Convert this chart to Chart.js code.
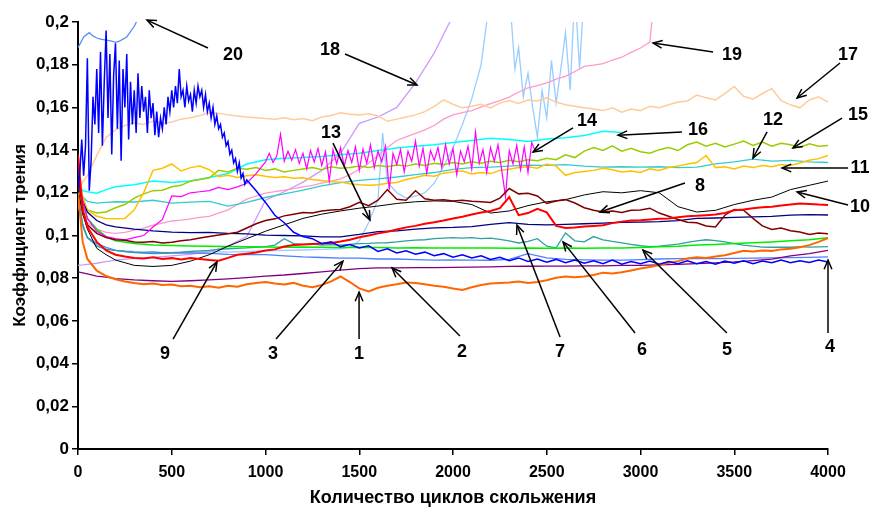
<!DOCTYPE html>
<html>
<head>
<meta charset="utf-8">
<script src="https://cdn.jsdelivr.net/npm/chart.js@4.4.1/dist/chart.umd.min.js"></script>
<style>
  html, body { margin: 0; padding: 0; background: #fff; }
  #chart { display: block; }
</style>
</head>
<body>
<canvas id="chart" width="876" height="521"></canvas>
<script>
function range(a, b, s) { const r = []; for (let v = a; v <= b; v += s) r.push(v); return r; }

// x sampling grids (cycles)
const cyclesA = [0, 25, 50, 100, 150, 200, ...range(300, 4000, 100)];
const cyclesB = [0, 25, ...range(50, 4000, 50)];
const cycles4 = [...range(0, 900, 10), ...range(950, 4000, 50)];
const cycles14 = [...range(0, 1000, 50), ...range(1020, 2440, 20)];
const cycles13 = [0, 25, 50, 100, 150, 200, 300, 400, 500, 600, 700, 800, 900, 1000, 1100, 1200, 1300, 1400,
  1450, 1500, 1550, 1600, 1625, 1650, 1700, 1750, 1800, 1850, 1900, 1950, 2000, 2050, 2100, 2150,
  2180, 2200, 2250, 2300, 2330, 2350, 2375, 2400, 2425, 2450, 2475, 2500, 2525, 2550, 2575, 2600, 2625, 2650, 2675, 2700];
const cycles20 = [0, 30, 60, 80, 100, 120, 150, 180, 200, 220, 240, 260, 280, 300, 320];

const xTicks = range(0, 4000, 500);
const yTicks = range(0, 10, 1).map(i => i * 0.02);

// friction coefficient series
const s1 = [0.12, 0.097,
  0.089, 0.0835, 0.081, 0.0795, 0.0785, 0.0778, 0.0772, 0.0775, 0.0768, 0.077,
  0.0762, 0.0765, 0.0758, 0.0762, 0.0755, 0.0765, 0.076, 0.0772, 0.0778, 0.0782,
  0.0775, 0.077, 0.0778, 0.0765, 0.0758, 0.0768, 0.0785, 0.0808, 0.0782, 0.0752,
  0.0738, 0.0755, 0.0765, 0.0772, 0.078, 0.0778, 0.0772, 0.0765, 0.076, 0.0752,
  0.0745, 0.0758, 0.0768, 0.0775, 0.0778, 0.078, 0.0785, 0.0778, 0.0782, 0.079,
  0.0802, 0.0808, 0.0805, 0.0808, 0.0815, 0.0826, 0.0822, 0.0828, 0.0836, 0.0845,
  0.0852, 0.0862, 0.0872, 0.088, 0.0892, 0.0898, 0.0895, 0.0902, 0.0908, 0.0918,
  0.0928, 0.0925, 0.093, 0.0928, 0.0935, 0.0938, 0.0945, 0.0955, 0.097, 0.0988];
const s2 = [0.083, 0.0825, 0.082, 0.081, 0.0805, 0.0798,
  0.0792, 0.0788, 0.0785, 0.0788, 0.0792, 0.0797, 0.0803, 0.081, 0.0815, 0.0822,
  0.083, 0.0838, 0.0845, 0.0848, 0.0848, 0.085, 0.085, 0.0851, 0.0852, 0.0853,
  0.0855, 0.0856, 0.0857, 0.0857, 0.0858, 0.0858, 0.086, 0.086, 0.0862, 0.0865,
  0.0868, 0.0872, 0.0876, 0.0882, 0.0889, 0.0905, 0.0915, 0.093];
const s3 = [0.118, 0.105, 0.099, 0.0962, 0.0945, 0.093,
  0.092, 0.0915, 0.0918, 0.0918, 0.0916, 0.0912, 0.091, 0.091, 0.0905, 0.09,
  0.0897, 0.0894, 0.0894, 0.089, 0.089, 0.0887, 0.0885, 0.0886, 0.0885, 0.0884,
  0.0888, 0.0915, 0.0895, 0.0888, 0.0886, 0.0885, 0.0885, 0.0887, 0.089, 0.0892,
  0.0893, 0.0892, 0.0893, 0.0894, 0.0895, 0.0896, 0.0898, 0.09];
const s4 = [0.122, 0.13, 0.145, 0.128, 0.142, 0.183, 0.121, 0.135, 0.165, 0.152,
  0.178, 0.148, 0.186, 0.142, 0.172, 0.196, 0.155, 0.185, 0.138, 0.175,
  0.19, 0.15, 0.182, 0.135, 0.178, 0.16, 0.185, 0.145, 0.172, 0.152,
  0.168, 0.148, 0.176, 0.155, 0.17, 0.158, 0.165, 0.148, 0.168, 0.155,
  0.162, 0.147, 0.158, 0.146, 0.155, 0.15, 0.16, 0.152, 0.165, 0.158,
  0.168, 0.16, 0.17, 0.162, 0.178, 0.165, 0.168, 0.16, 0.17, 0.163,
  0.166, 0.158, 0.168, 0.162, 0.17, 0.165, 0.168, 0.16, 0.166, 0.158,
  0.162, 0.155, 0.16, 0.152, 0.156, 0.15, 0.152, 0.146, 0.148, 0.142,
  0.144, 0.138, 0.14, 0.134, 0.136, 0.13, 0.134, 0.127, 0.129, 0.124,
  0.126,
  0.121, 0.1155, 0.1095, 0.106, 0.1015, 0.0995, 0.0985, 0.0962, 0.097, 0.0948,
  0.0958, 0.0942, 0.0952, 0.0925, 0.0938, 0.0918, 0.0928, 0.0912, 0.0922, 0.0905,
  0.0915, 0.0898, 0.091, 0.0895, 0.0905, 0.0888, 0.0898, 0.0882, 0.0895, 0.0878,
  0.089, 0.0875, 0.0888, 0.0872, 0.0885, 0.087, 0.0882, 0.0868, 0.0885, 0.0866,
  0.0878, 0.0868, 0.088, 0.0866, 0.0878, 0.0868, 0.0882, 0.0868, 0.0878, 0.0866,
  0.088, 0.087, 0.0882, 0.0868, 0.088, 0.0872, 0.0885, 0.0872, 0.0882, 0.0874,
  0.0885, 0.0876];
const s5 = [0.125, 0.115, 0.108, 0.103, 0.0995, 0.0975,
  0.0962, 0.0956, 0.0953, 0.0951, 0.095, 0.0948, 0.0947, 0.0946, 0.0945, 0.0946,
  0.0945, 0.0944, 0.0945, 0.0944, 0.0942, 0.0943, 0.0942, 0.0941, 0.0942, 0.0941,
  0.094, 0.0941, 0.094, 0.0941, 0.094, 0.0941, 0.0942, 0.0944, 0.0947, 0.095,
  0.0955, 0.0958, 0.0962, 0.0966, 0.097, 0.0975, 0.098, 0.099];
const s6 = [0.12, 0.105,
  0.099, 0.095, 0.0935, 0.093, 0.0925, 0.0922, 0.092, 0.0923, 0.0918, 0.092,
  0.0922, 0.0925, 0.0928, 0.093, 0.0935, 0.0938, 0.094, 0.0942, 0.0945, 0.0948,
  0.0955, 0.0985, 0.0962, 0.0958, 0.096, 0.0955, 0.0957, 0.0955, 0.0958, 0.0962,
  0.0963, 0.0965, 0.0966, 0.097, 0.0975, 0.0978, 0.098, 0.0985, 0.0988, 0.099,
  0.0988, 0.099, 0.0985, 0.0988, 0.0982, 0.0975, 0.0965, 0.0972, 0.0985, 0.095,
  0.0942, 0.1012, 0.0975, 0.097, 0.0995, 0.098, 0.0972, 0.0965, 0.0958, 0.0952,
  0.0948, 0.095, 0.0955, 0.096, 0.0968, 0.0975, 0.098, 0.0976, 0.097, 0.0962,
  0.0955, 0.095, 0.0946, 0.0945, 0.0946, 0.0945, 0.0948, 0.0946, 0.0947, 0.0948];
const s7 = [0.125, 0.116, 0.111, 0.107, 0.105, 0.104,
  0.103, 0.1022, 0.1016, 0.1013, 0.1015, 0.101, 0.1008, 0.1002, 0.1, 0.0998,
  0.0994, 0.0994, 0.1005, 0.1018, 0.1022, 0.103, 0.1036, 0.1038, 0.1042, 0.1052,
  0.106, 0.1052, 0.105, 0.1052, 0.1055, 0.1058, 0.1062, 0.1063, 0.1065, 0.107,
  0.108, 0.1082, 0.1085, 0.1087, 0.109, 0.1095, 0.1098, 0.1096];
const s8 = [0.13, 0.112,
  0.105, 0.101, 0.099, 0.098, 0.0978, 0.097, 0.0968, 0.0972, 0.0965, 0.0968,
  0.0975, 0.098, 0.0988, 0.0995, 0.1002, 0.1008, 0.1015, 0.1035, 0.1055, 0.107,
  0.1078, 0.1092, 0.11, 0.1108, 0.1105, 0.1115, 0.112, 0.1122, 0.1135, 0.1155,
  0.114, 0.1165, 0.1215, 0.117, 0.1165, 0.121, 0.1172, 0.1165, 0.1168, 0.1162,
  0.1165, 0.116, 0.1158, 0.1155, 0.1175, 0.122, 0.1195, 0.1198, 0.1185, 0.115,
  0.1162, 0.1168, 0.1152, 0.113, 0.1118, 0.111, 0.1115, 0.1108, 0.1118, 0.112,
  0.1128, 0.1105, 0.109, 0.1075, 0.1062, 0.106, 0.1045, 0.104, 0.1095, 0.1122,
  0.1118, 0.108, 0.1045, 0.1028, 0.1035, 0.1022, 0.1016, 0.1005, 0.1012, 0.1008];
const s9 = [0.138, 0.112,
  0.104, 0.097, 0.093, 0.091, 0.0902, 0.0895, 0.0892, 0.0898, 0.089, 0.0894,
  0.0888, 0.0895, 0.089, 0.0885, 0.0882, 0.0895, 0.091, 0.0915, 0.092, 0.093,
  0.0935, 0.0948, 0.0955, 0.0958, 0.096, 0.0962, 0.0965, 0.0972, 0.098, 0.0992,
  0.1, 0.101, 0.1018, 0.1028, 0.1038, 0.1045, 0.1055, 0.1062, 0.107, 0.108,
  0.1088, 0.1098, 0.1108, 0.1115, 0.1128, 0.118, 0.1095, 0.1105, 0.1125, 0.1108,
  0.1045, 0.1035, 0.1038, 0.1042, 0.1045, 0.1048, 0.1058, 0.1065, 0.107, 0.1072,
  0.1075, 0.1078, 0.108, 0.1085, 0.109, 0.1092, 0.1095, 0.1098, 0.1105, 0.1118,
  0.1122, 0.1128, 0.1132, 0.1135, 0.114, 0.1145, 0.115, 0.1148, 0.1145, 0.1143];
const s10 = [0.122, 0.11, 0.103, 0.094, 0.091, 0.0885,
  0.086, 0.0855, 0.086, 0.088, 0.091, 0.095, 0.0985, 0.102, 0.105, 0.108,
  0.11, 0.1115, 0.1128, 0.1138, 0.115, 0.1158, 0.1162, 0.116, 0.1145, 0.1105,
  0.1115, 0.114, 0.1158, 0.1168, 0.119, 0.1205, 0.12, 0.121, 0.12, 0.1135,
  0.111, 0.1118, 0.1145, 0.1165, 0.118, 0.1215, 0.1235, 0.1255];
const s11 = [0.13, 0.118,
  0.112, 0.109, 0.108, 0.1078, 0.108, 0.112, 0.12, 0.1305, 0.1315, 0.1335,
  0.1302, 0.1318, 0.1325, 0.1308, 0.1275, 0.1282, 0.1272, 0.128, 0.1285, 0.1278,
  0.1272, 0.1275, 0.1268, 0.127, 0.1262, 0.1258, 0.1252, 0.125, 0.1242, 0.1238,
  0.1235, 0.1238, 0.1245, 0.1248, 0.1262, 0.1272, 0.1282, 0.1278, 0.1292, 0.1298,
  0.1302, 0.1288, 0.1295, 0.129, 0.1305, 0.131, 0.1318, 0.1322, 0.1315, 0.1335,
  0.1325, 0.1282, 0.1295, 0.13, 0.1305, 0.1315, 0.1308, 0.1298, 0.1302, 0.1295,
  0.1312, 0.1305, 0.1318, 0.1325, 0.1335, 0.1342, 0.1375, 0.1318, 0.1322, 0.1312,
  0.1325, 0.1318, 0.1328, 0.1322, 0.1332, 0.1328, 0.134, 0.1352, 0.136, 0.1375];
const s12 = [0.122, 0.118, 0.116, 0.1152, 0.1155, 0.1158,
  0.1157, 0.1165, 0.1152, 0.1156, 0.116, 0.1138, 0.1155, 0.1178, 0.1195, 0.1212,
  0.1232, 0.1248, 0.1258, 0.1265, 0.1274, 0.1285, 0.1295, 0.131, 0.1318, 0.132,
  0.1325, 0.133, 0.1328, 0.1332, 0.1325, 0.132, 0.1322, 0.132, 0.1322, 0.1318,
  0.132, 0.1335, 0.1345, 0.1358, 0.1348, 0.1352, 0.1345, 0.1342];
const s13 = [0.115, 0.104, 0.099, 0.0955, 0.094, 0.093,
  0.0925, 0.0922, 0.092, 0.0922, 0.0925, 0.0922, 0.0925, 0.0928, 0.093, 0.0932, 0.0935, 0.0938,
  0.0945, 0.0975, 0.106, 0.117, 0.148, 0.125,
  0.12, 0.1175, 0.1185, 0.12, 0.1245, 0.1325, 0.141, 0.152, 0.164, 0.18,
  0.2, 0.215, 0.215, 0.215,
  0.178, 0.188, 0.165, 0.176, 0.16, 0.146, 0.168, 0.155, 0.182, 0.162, 0.178, 0.195, 0.168, 0.215, 0.178, 0.215];
const s14 = [0.125, 0.108, 0.102, 0.0995, 0.0985, 0.098, 0.099, 0.1, 0.104, 0.1075,
  0.1185, 0.1182, 0.12, 0.1205, 0.121, 0.1225, 0.1215, 0.1228, 0.1245, 0.129, 0.1345,
  0.1385, 0.1342, 0.1372, 0.1475, 0.1348, 0.1395, 0.1352, 0.1402, 0.1338, 0.1385,
  0.1312, 0.1398, 0.1345, 0.1408, 0.1328, 0.1392, 0.1255, 0.1402, 0.1335, 0.1412,
  0.1325, 0.1398, 0.1342, 0.1415, 0.1305, 0.1405, 0.1338, 0.1425, 0.1318, 0.1395,
  0.1345, 0.1418, 0.1215, 0.1385, 0.1332, 0.1402, 0.1298, 0.1395, 0.1348, 0.1442,
  0.1325, 0.1408, 0.1292, 0.1398, 0.1352, 0.1412, 0.1318, 0.1425, 0.1335, 0.1408,
  0.1285, 0.1395, 0.1345, 0.1418, 0.1312, 0.1485, 0.1338, 0.1402, 0.1295, 0.1412,
  0.1348, 0.1425, 0.1305, 0.1182, 0.1398, 0.1335, 0.1422, 0.1308, 0.1415, 0.1295,
  0.1435, 0.1392];
const s15 = [0.118, 0.114,
  0.112, 0.1105, 0.111, 0.113, 0.1145, 0.1175, 0.1195, 0.121, 0.1212, 0.1228,
  0.1235, 0.1255, 0.1262, 0.127, 0.1305, 0.1298, 0.1315, 0.131, 0.1318, 0.1305,
  0.1312, 0.1298, 0.1305, 0.1312, 0.1318, 0.1308, 0.1322, 0.1315, 0.1318, 0.1325,
  0.1318, 0.1328, 0.1322, 0.133, 0.1325, 0.1335, 0.1328, 0.1338, 0.1332, 0.1342,
  0.1335, 0.1345, 0.1338, 0.1348, 0.1342, 0.1352, 0.1345, 0.1355, 0.135, 0.1362,
  0.1355, 0.1378, 0.1365, 0.1395, 0.1412, 0.1398, 0.142, 0.1395, 0.1408, 0.1392,
  0.1385, 0.1402, 0.1412, 0.1398, 0.1425, 0.1438, 0.1418, 0.1432, 0.1415, 0.1428,
  0.1442, 0.1422, 0.1438, 0.1418, 0.1432, 0.1425, 0.1412, 0.143, 0.1418, 0.1422];
const s16 = [0.125, 0.121, 0.1205, 0.1198, 0.1215, 0.1228,
  0.1238, 0.1255, 0.1248, 0.1255, 0.1272, 0.129, 0.1335, 0.1355, 0.1362, 0.1365,
  0.137, 0.1378, 0.1385, 0.1398, 0.141, 0.1418, 0.1425, 0.1436, 0.1445, 0.1455,
  0.145, 0.144, 0.1452, 0.1458, 0.1468, 0.1488, 0.1482];
const s17 = [0.12, 0.125,
  0.128, 0.1375, 0.146, 0.1495, 0.1515, 0.1528, 0.152, 0.1535, 0.1525, 0.1532,
  0.1545, 0.1552, 0.1562, 0.1575, 0.1572, 0.1565, 0.156, 0.1555, 0.1552, 0.1548,
  0.1545, 0.1552, 0.1542, 0.1548, 0.1538, 0.1555, 0.1562, 0.1575, 0.1568, 0.1565,
  0.157, 0.156, 0.1535, 0.1545, 0.1555, 0.1565, 0.158, 0.1605, 0.1635, 0.1615,
  0.1598, 0.1605, 0.1615, 0.1598, 0.162, 0.1632, 0.1618, 0.1635, 0.163, 0.1645,
  0.1625, 0.1612, 0.1605, 0.1598, 0.1592, 0.1585, 0.1598, 0.1578, 0.1592, 0.1585,
  0.1605, 0.1598, 0.1612, 0.1625, 0.163, 0.1658, 0.1645, 0.1635, 0.1665, 0.1698,
  0.1652, 0.1638, 0.1665, 0.1688, 0.1632, 0.1612, 0.1598, 0.1635, 0.165, 0.1625];
const s18 = [0.086, 0.0862, 0.0865, 0.087, 0.0878, 0.0885,
  0.0893, 0.0898, 0.0905, 0.0912, 0.0925, 0.095, 0.0995, 0.1165, 0.1205, 0.125,
  0.1305, 0.1385, 0.1525, 0.1555, 0.16, 0.1715, 0.1855, 0.203];
const s19 = [0.12, 0.11,
  0.106, 0.103, 0.1015, 0.101, 0.1015, 0.1025, 0.1035, 0.1048, 0.1058, 0.1068,
  0.1072, 0.1078, 0.1085, 0.109, 0.1105, 0.112, 0.1145, 0.117, 0.1185, 0.1198,
  0.1205, 0.1212, 0.122, 0.1228, 0.1235, 0.1245, 0.1255, 0.1265, 0.1285, 0.131,
  0.1338, 0.1375, 0.1412, 0.1445, 0.1462, 0.1478, 0.1495, 0.1515, 0.1545, 0.1565,
  0.1575, 0.1585, 0.1602, 0.1618, 0.1632, 0.1648, 0.1672, 0.1692, 0.1702, 0.1715,
  0.1732, 0.1745, 0.1768, 0.1792, 0.1798, 0.1805, 0.1822, 0.1835, 0.1858, 0.1878,
  0.1906, 0.235];
const s20 = [0.188, 0.193, 0.195, 0.1935, 0.1925, 0.192, 0.1915, 0.191, 0.1905, 0.191, 0.192, 0.193, 0.1955, 0.198, 0.2015];

// numbered callouts: label point, arrow start, arrow tip (data units)
const callouts = [
  { text: '20', at: [827, 0.1845], from: [693, 0.1878], to: [368, 0.2009] },
  { text: '18', at: [1344, 0.1869], from: [1424, 0.185], to: [1808, 0.1705] },
  { text: '13', at: [1349, 0.148], from: [1360, 0.1433], to: [1557, 0.1073] },
  { text: '14', at: [2715, 0.1536], from: [2640, 0.1504], to: [2427, 0.1391] },
  { text: '19', at: [3488, 0.1845], from: [3387, 0.186], to: [3067, 0.1902] },
  { text: '17', at: [4107, 0.1845], from: [4064, 0.1808], to: [3835, 0.1644] },
  { text: '16', at: [3307, 0.1494], from: [3221, 0.1485], to: [2880, 0.147] },
  { text: '12', at: [3707, 0.1541], from: [3675, 0.1485], to: [3600, 0.1363] },
  { text: '15', at: [4160, 0.1564], from: [4075, 0.155], to: [3813, 0.141] },
  { text: '11', at: [4171, 0.1316], from: [4107, 0.1316], to: [3755, 0.1316] },
  { text: '8', at: [3317, 0.1232], from: [3237, 0.1246], to: [2784, 0.111] },
  { text: '10', at: [4171, 0.1133], from: [4107, 0.1143], to: [3835, 0.1204] },
  { text: '9', at: [464, 0.0445], from: [507, 0.0515], to: [741, 0.0876] },
  { text: '3', at: [1040, 0.0445], from: [1056, 0.0515], to: [1413, 0.088] },
  { text: '1', at: [1499, 0.0445], from: [1499, 0.0515], to: [1499, 0.0735] },
  { text: '2', at: [2048, 0.0454], from: [2037, 0.0529], to: [1675, 0.0848] },
  { text: '7', at: [2571, 0.0454], from: [2571, 0.0525], to: [2341, 0.1049] },
  { text: '6', at: [3008, 0.0464], from: [2971, 0.0543], to: [2587, 0.097] },
  { text: '5', at: [3461, 0.0464], from: [3461, 0.0543], to: [3013, 0.0932] },
  { text: '4', at: [4011, 0.0478], from: [4000, 0.0543], to: [4000, 0.0885] },
];

const FONT = '"Liberation Sans", Arial, sans-serif';

function line(label, xs, ys, color, width) {
  if (ys.length > xs.length) throw new Error('series ' + label + ': ' + ys.length + ' > ' + xs.length);
  return {
    label,
    data: ys.map((v, i) => ({ x: xs[i], y: v })),
    borderColor: color,
    borderWidth: width,
    pointRadius: 0,
    fill: false,
    tension: 0,
  };
}

const calloutPlugin = {
  id: 'callouts',
  afterDatasetsDraw(chart) {
    const { ctx, scales: { x, y } } = chart;
    ctx.save();
    ctx.strokeStyle = '#000';
    ctx.fillStyle = '#000';
    ctx.lineWidth = 1.5;
    ctx.font = 'bold 18px ' + FONT;
    ctx.textAlign = 'center';
    ctx.textBaseline = 'middle';
    callouts.forEach(c => {
      const fx = x.getPixelForValue(c.from[0]), fy = y.getPixelForValue(c.from[1]);
      const tx = x.getPixelForValue(c.to[0]), ty = y.getPixelForValue(c.to[1]);
      ctx.beginPath();
      ctx.moveTo(fx, fy);
      ctx.lineTo(tx, ty);
      ctx.stroke();
      const a = Math.atan2(ty - fy, tx - fx);
      ctx.beginPath();
      ctx.moveTo(tx - 10 * Math.cos(a - 0.4), ty - 10 * Math.sin(a - 0.4));
      ctx.lineTo(tx, ty);
      ctx.lineTo(tx - 10 * Math.cos(a + 0.4), ty - 10 * Math.sin(a + 0.4));
      ctx.stroke();
      ctx.fillText(c.text, x.getPixelForValue(c.at[0]), y.getPixelForValue(c.at[1]));
    });
    ctx.restore();
  },
};

const fmtY = v => (v === 0 ? '0' : String(+v.toFixed(2)).replace('.', ','));

new Chart(document.getElementById('chart'), {
  type: 'line',
  data: {
    datasets: [
      line('4', cycles4, s4, '#0000ff', 1.5),
      line('9', cyclesB, s9, '#ff0000', 2),
      line('1', cyclesB, s1, '#ff6600', 2),
      line('8', cyclesB, s8, '#800000', 1.5),
      line('14', cycles14, s14, '#ff00ff', 1.2),
      line('10', cyclesA, s10, '#000000', 1),
      line('7', cyclesA, s7, '#000080', 1.3),
      line('2', cyclesA, s2, '#800080', 1.3),
      line('5', cyclesA, s5, '#00ee00', 1.5),
      line('6', cyclesB, s6, '#2f9f9f', 1.3),
      line('3', cyclesA, s3, '#4f7fff', 1.3),
      line('11', cyclesB, s11, '#ffc000', 1.5),
      line('15', cyclesB, s15, '#99cc00', 1.5),
      line('12', cyclesA, s12, '#33cccc', 1.3),
      line('16', cyclesA, s16, '#00ffff', 1.5),
      line('17', cyclesB, s17, '#ffcc99', 1.5),
      line('19', cyclesB, s19, '#ff99cc', 1.3),
      line('18', cyclesA, s18, '#cc99ff', 1.3),
      line('13', cycles13, s13, '#99ccff', 1.3),
      line('20', cycles20, s20, '#5b8cf5', 1.3),
    ],
  },
  options: {
    responsive: false,
    animation: false,
    devicePixelRatio: 1,
    layout: { padding: { left: 0, right: 48, top: 22, bottom: 0 } },
    plugins: { legend: { display: false }, tooltip: { enabled: false } },
    scales: {
      x: {
        type: 'linear',
        min: 0,
        max: 4000,
        afterFit(s) { s.height = 72; },
        afterBuildTicks(s) { s.ticks = xTicks.map(v => ({ value: v })); },
        ticks: { color: '#000', font: { family: FONT, size: 16, weight: 'bold' }, padding: 8, maxRotation: 0, callback: v => String(v) },
        grid: { drawOnChartArea: false, drawTicks: true, tickLength: 6, color: '#000', lineWidth: 1.5 },
        border: { display: true, color: '#000', width: 2 },
        title: {
          display: true,
          text: 'Количество циклов скольжения',
          color: '#000',
          font: { family: FONT, size: 18, weight: 'bold' },
          padding: { top: 0, bottom: 12 },
        },
      },
      y: {
        type: 'linear',
        min: 0,
        max: 0.2,
        afterFit(s) { s.width = 78; },
        afterBuildTicks(s) { s.ticks = yTicks.map(v => ({ value: v })); },
        ticks: { color: '#000', font: { family: FONT, size: 17, weight: 'bold' }, padding: 3, callback: fmtY },
        grid: { drawOnChartArea: false, drawTicks: true, tickLength: 6, color: '#000', lineWidth: 1.5 },
        border: { display: true, color: '#000', width: 2 },
        title: {
          display: true,
          text: 'Коэффициент трения',
          color: '#000',
          font: { family: FONT, size: 17, weight: 'bold' },
          padding: { top: 10, bottom: 0 },
        },
      },
    },
  },
  plugins: [calloutPlugin],
});
</script>
</body>
</html>
